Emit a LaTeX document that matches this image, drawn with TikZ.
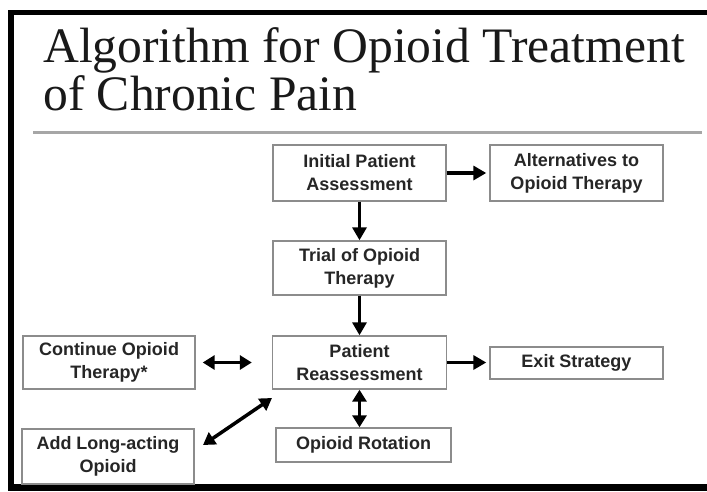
\documentclass[tikz,border=0pt]{standalone}
\usepackage{fontspec}
\setmainfont{Liberation Serif}
\newfontfamily\boxfont{Liberation Sans}
\usetikzlibrary{arrows.meta}
\tikzset{
  stepbox/.style={draw=black!45, line width=1.4pt, fill=white, align=center, inner sep=0pt,
    font=\boxfont\bfseries\fontsize{18}{23}\selectfont, text=black!85},
  flowarrow/.style={line width=3.5pt, -{Triangle[length=13pt,width=14pt]}},
  dblarrow/.style={line width=3.5pt, {Triangle[length=12pt,width=14pt]}-{Triangle[length=12pt,width=14pt]}},
  titletext/.style={anchor=base west, inner sep=0pt, font=\fontsize{49.6}{48}\selectfont, text=black!90}
}
\begin{document}
\begin{tikzpicture}[x=1pt,y=-1pt]
\useasboundingbox (0,0) rectangle (707,491);
\fill[white] (0,0) rectangle (707,491);
% frame
\fill[black] (8,10) rectangle (707,15);
\fill[black] (8,10) rectangle (14,491);
\fill[black] (8,484) rectangle (707,491);
% title
\node[titletext] (t1) at (43,62) {Algorithm for Opioid Treatment};
\node[titletext] (t2) at (43,110) {of Chronic Pain};
\draw[black!35, line width=2.5pt] (33,132.5) -- (702,132.5);
% boxes
\node[stepbox, minimum width=173pt, minimum height=56pt] (init) at (359.5,173) {Initial Patient\\Assessment};
\node[stepbox, minimum width=173pt, minimum height=56pt] (alt) at (576.5,173) {Alternatives to\\Opioid Therapy};
\node[stepbox, minimum width=173pt, minimum height=54pt] (trial) at (359.5,268) {Trial of Opioid\\Therapy};
\node[stepbox, minimum width=174pt, minimum height=53pt] (reass) at (359.5,362.5) {Patient\\Reassessment};
\node[stepbox, minimum width=173pt, minimum height=32pt] (exit) at (576.5,363) {Exit Strategy};
\node[stepbox, minimum width=172pt, minimum height=53pt] (cont) at (109,362.5) {Continue Opioid\\Therapy*};
\node[stepbox, minimum width=172pt, minimum height=55pt] (add) at (108,456.5) {Add Long-acting\\Opioid};
\node[stepbox, minimum width=175pt, minimum height=34pt] (rot) at (363.5,445) {Opioid Rotation};
% connectors
\draw[flowarrow, shorten >=3pt] (init.east) -- (alt.west);
\draw[flowarrow] (init.south) -- (trial.north);
\draw[flowarrow] (trial.south) -- (reass.north);
\draw[flowarrow, shorten >=3pt] (reass.east) -- (reass.east -| exit.west);
\draw[dblarrow, shorten <=7pt, shorten >=20pt] (cont.east) -- (cont.east -| reass.west);
\draw[dblarrow] (reass.south) -- (reass.south |- rot.north);
\coordinate (d1) at (203,445);
\coordinate (d2) at (272,398);
\draw[dblarrow] (d1) -- (d2);
\end{tikzpicture}
\end{document}
